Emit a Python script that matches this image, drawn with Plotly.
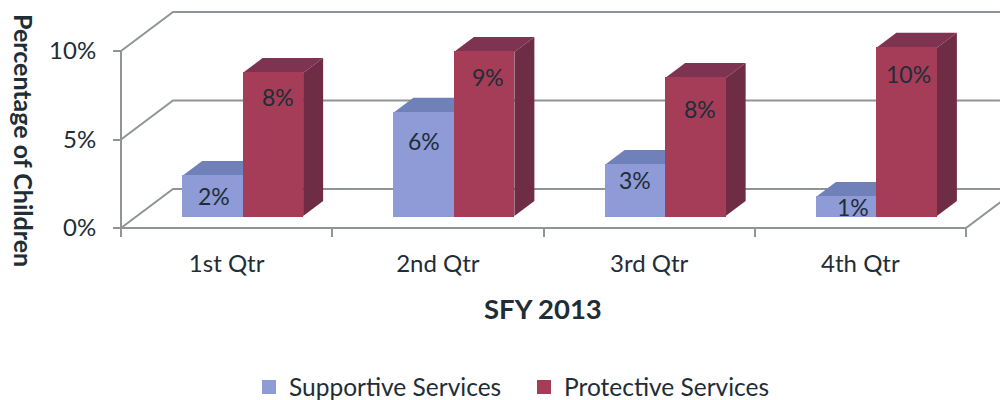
import plotly.graph_objects as go

quarters = ["1st Qtr", "2nd Qtr", "3rd Qtr", "4th Qtr"]
supportive = [2.26, 5.84, 2.88, 1.07]
protective = [8.08, 9.27, 7.80, 9.50]
supportive_labels = ["2%", "6%", "3%", "1%"]
protective_labels = ["8%", "9%", "8%", "10%"]
y_ticks = [0, 5, 10]
y_tick_labels = ["0%", "5%", "10%"]

# page offset: the browser puts the figure 8px in from the corner
fx = lambda px: (px - 8) / 1000
fy = lambda py: 1 - (py - 8) / 392

# chart geometry (the oblique projection of the 3-D look)
PX_X = 845 / 4
PX_Y = 177 / 10
AX_L, AX_B = 121, 228          # page pixels of the axis origin
P_L, P_R, P_T, P_B = 117, 1008, 8, 232
X_RANGE = [(P_L - AX_L) / PX_X, (P_R - AX_L) / PX_X]
Y_RANGE = [(AX_B - P_B) / PX_Y, (AX_B - P_T) / PX_Y]
WALL_DX, WALL_DY = 52 / PX_X, 39 / PX_Y
SHIFT_X, SHIFT_Y = 16 / PX_X, 12 / PX_Y
DEPTH_X, DEPTH_Y = 20 / PX_X, 15 / PX_Y
BAR_W = 60.5 / PX_X
GRID = "#8f9496"
TEXT = "#1e2d36"
FONT = "Lato"
BLUE, BLUE_TOP, BLUE_SIDE = "#8e9bd6", "#7080b9", "#62709f"
RED, RED_TOP, RED_SIDE = "#a53c58", "#7e3350", "#6e2c45"

fig = go.Figure()


def line(xs, ys):
    fig.add_trace(go.Scatter(x=xs, y=ys, mode="lines", showlegend=False,
                             hoverinfo="skip", line=dict(color=GRID, width=2)))


def face(xs, ys, color):
    fig.add_trace(go.Scatter(x=xs, y=ys, mode="lines", fill="toself", fillcolor=color,
                             showlegend=False, hoverinfo="skip", line=dict(color=color, width=0)))


# walls and floor
for t in y_ticks:
    line([0, WALL_DX, X_RANGE[1]], [t, t + WALL_DY, t + WALL_DY])
line([0, 0], [0, 10])
line([0, 4, 4 + WALL_DX], [0, 0, WALL_DY])

# depth faces of the bars, derived from the values
for series, top_c, side_c, off in ((supportive, BLUE_TOP, BLUE_SIDE, -1), (protective, RED_TOP, RED_SIDE, 0)):
    for i, v in enumerate(series):
        x0 = i + 0.5 + SHIFT_X + off * BAR_W
        x1 = x0 + BAR_W
        y0 = SHIFT_Y
        y1 = SHIFT_Y + v
        face([x0, x1, x1 + DEPTH_X, x0 + DEPTH_X, x0], [y1, y1, y1 + DEPTH_Y, y1 + DEPTH_Y, y1], top_c)
        face([x1, x1 + DEPTH_X, x1 + DEPTH_X, x1, x1], [y0, y0 + DEPTH_Y, y1 + DEPTH_Y, y1, y0], side_c)

# front faces
centers = [i + 0.5 + SHIFT_X for i in range(len(quarters))]
fig.add_trace(go.Bar(name="Supportive Services", x=[c - BAR_W / 2 for c in centers], y=supportive,
                     base=SHIFT_Y, width=BAR_W - 2 / PX_X, xaxis="x2", yaxis="y2",
                     marker=dict(color=BLUE, line=dict(color=BLUE, width=2))))
fig.add_trace(go.Bar(name="Protective Services", x=[c + BAR_W / 2 for c in centers], y=protective,
                     base=SHIFT_Y, width=BAR_W - 2 / PX_X, xaxis="x2", yaxis="y2",
                     marker=dict(color=RED, line=dict(color=RED, width=2))))

# value labels, placed below each bar top
sup_drop = [20, 28, 15, 10]
pro_drop = [24, 25, 31, 26]
sup_shift = [2, 0, 0, 7]
pro_shift = [5, 4, 5, 2]
annots = []
for i, c in enumerate(centers):
    annots.append(dict(x=c - BAR_W / 2, y=SHIFT_Y + supportive[i], xref="x2", yref="y2", text=supportive_labels[i],
                       showarrow=False, xshift=sup_shift[i], yshift=-sup_drop[i],
                       font=dict(family=FONT, size=23, color=TEXT)))
    annots.append(dict(x=c + BAR_W / 2, y=SHIFT_Y + protective[i], xref="x2", yref="y2", text=protective_labels[i],
                       showarrow=False, xshift=pro_shift[i], yshift=-pro_drop[i],
                       font=dict(family=FONT, size=23, color=TEXT)))
annots.append(dict(x=fx(24), y=fy(140), xref="paper", yref="paper", text="<b>Percentage of Children</b>",
                   textangle=90, showarrow=False, xanchor="center", yanchor="middle",
                   font=dict(family=FONT, size=25, color=TEXT)))
annots.append(dict(x=fx(543), y=fy(308), xref="paper", yref="paper", text="<b>SFY 2013</b>",
                   showarrow=False, xanchor="center", yanchor="middle",
                   font=dict(family=FONT, size=27.5, color=TEXT)))

fig.update_layout(
    width=1000, height=392, autosize=False,
    margin=dict(l=0, r=0, t=0, b=0, autoexpand=False),
    paper_bgcolor="white", plot_bgcolor="rgba(0,0,0,0)",
    barmode="overlay", bargap=0,
    font=dict(family=FONT, color=TEXT, size=24),
    annotations=annots,
    xaxis=dict(domain=[fx(P_L), fx(P_R)], range=X_RANGE, anchor="free", position=fy(AX_B),
               tickvals=[0, 1, 2, 3, 4], ticktext=[""] * 5, ticks="outside", ticklen=8, tickwidth=2,
               tickcolor=GRID, showline=False, showgrid=False, zeroline=False),
    yaxis=dict(domain=[fy(P_B), fy(P_T)], range=Y_RANGE, anchor="free", position=fx(AX_L),
               tickvals=y_ticks, ticktext=y_tick_labels, ticks="outside", ticklen=8, tickwidth=2,
               tickcolor=GRID, showline=False, showgrid=False, zeroline=False,
               ticklabelstandoff=12, tickfont=dict(family=FONT, size=24, color=TEXT)),
    xaxis2=dict(domain=[fx(P_L), fx(P_R)], range=X_RANGE, overlaying="x", anchor="free", position=fy(AX_B),
                side="bottom", tickvals=[0.5, 1.5, 2.5, 3.5], ticktext=quarters,
                ticks="", showgrid=False, zeroline=False, showline=False, ticklabelstandoff=19,
                tickfont=dict(family=FONT, size=24, color=TEXT)),
    yaxis2=dict(domain=[fy(P_B), fy(P_T)], range=Y_RANGE, overlaying="y", visible=False),
    legend=dict(orientation="h", x=fx(249), y=fy(387), xanchor="left", yanchor="middle",
                entrywidth=230, entrywidthmode="pixels",
                font=dict(family=FONT, size=24.5, color=TEXT), itemclick=False),
)

fig.write_html("out.html", config=dict(displayModeBar=False))
